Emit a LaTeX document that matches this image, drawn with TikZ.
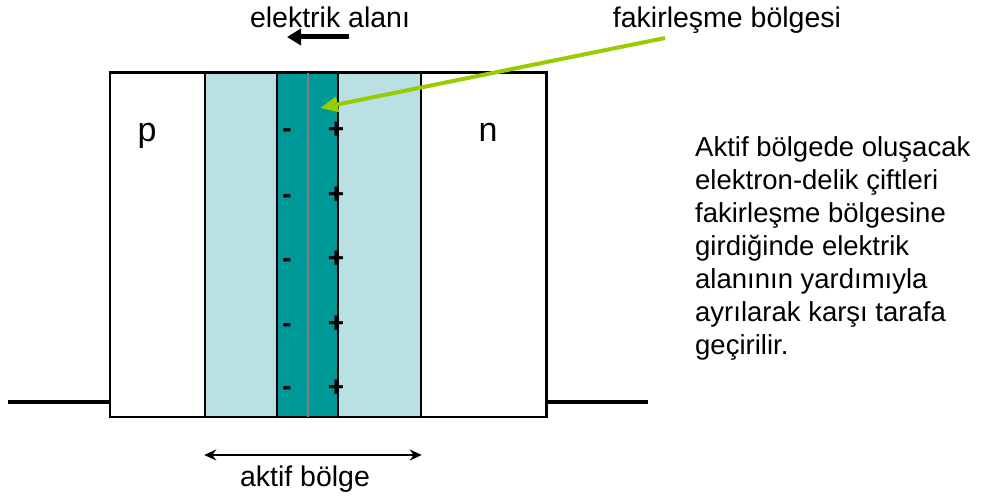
\documentclass[tikz,border=0pt]{standalone}
\usepackage{fontspec}
\setmainfont{Liberation Sans}
\usetikzlibrary{arrows.meta,positioning,calc}
\definecolor{activeblue}{RGB}{187,224,228}
\definecolor{depteal}{RGB}{0,153,153}
\definecolor{pointergreen}{RGB}{153,204,0}
\begin{document}
\begin{tikzpicture}[
			x=1pt,y=1pt,
			>=Latex,
			region/.style={
				draw,
				line width=1.5pt,
				inner sep=0pt,
				minimum height=344pt
			},
			label/.style={
				font=\fontsize{28.5}{33}\selectfont,
				inner sep=0pt
			},
			layer/.style={
				font=\fontsize{34}{40}\selectfont,
				inner sep=0pt
			},
			sign/.style={
				font=\fontsize{28}{33}\selectfont\bfseries,
				inner sep=0pt
			},
			lead/.style={
				line width=3.5pt
			}
			]
			\useasboundingbox (0,0) rectangle (989,498);
			
			% Regions
			\node[region,minimum width=436pt] (box) at (328,253) {};
			\node[region,fill=activeblue,minimum width=216pt] (aktif) at (313,253) {};
			\node[region,fill=depteal,line width=2pt,minimum width=61pt] (fakir) at (307.5,253) {};
			\draw[gray,line width=1.5pt] (308,0 |- fakir.north) -- (308,0 |- fakir.south);
			\draw[line width=1.5pt] (box.north west) rectangle (box.south east);
			
			% Leads
			\coordinate (leadL) at (8,96);
			\coordinate (leadR) at (648,96);
			\draw[lead] (leadL) -- (leadL -| box.west);
			\draw[lead] (leadR -| box.east) -- (leadR);
			
			% Charges
			\foreach \y/\yy in {365/368,299/303,235/239,170/174,107/110} {
				\node[sign] at (287,\y) {-};
				\node[sign] at (336,\yy) {+};
			}
			
			% Labels
			\node[layer,anchor=base] (p) at (147,356) {p};
			\node[layer,anchor=base] (n) at (488,356) {n};
			\node[label,anchor=base] (field) at (330,470) {elektrik alanı};
			\node[label,anchor=base] (fakirlbl) at (727,470) {fakirleşme bölgesi};
			\node[label,anchor=base] (aktiflbl) at (305,11) {aktif bölge};
			\node[anchor=north west,inner sep=0pt,align=left,
				font=\fontsize{27.5}{33}\selectfont] (note) at (695,362)
			{Aktif bölgede oluşacak\\elektron-delik çiftleri\\fakirleşme bölgesine\\girdiğinde elektrik\\alanının yardımıyla\\ayrılarak karşı tarafa\\geçirilir.};
			
			% Arrows
			\coordinate (fieldtail) at (349,461);
			\coordinate (fieldtip) at (287,461);
			\draw[-{Triangle[length=14pt,width=16pt]},line width=5pt] (fieldtail) -- (fieldtip);
			\coordinate (greentail) at (665,460);
			\coordinate (greentip) at (320,390);
			\draw[-{Triangle[length=18pt,width=15pt]},pointergreen,line width=4pt] (greentail) -- (greentip);
			\coordinate (aktifL) at (aktif.west |- 0,43);
			\coordinate (aktifR) at (aktif.east |- 0,43);
			\draw[{Stealth[length=12pt,width=11pt]}-{Stealth[length=12pt,width=11pt]},line width=2pt] (aktifL) -- (aktifR);
			
		\end{tikzpicture}
\end{document}
